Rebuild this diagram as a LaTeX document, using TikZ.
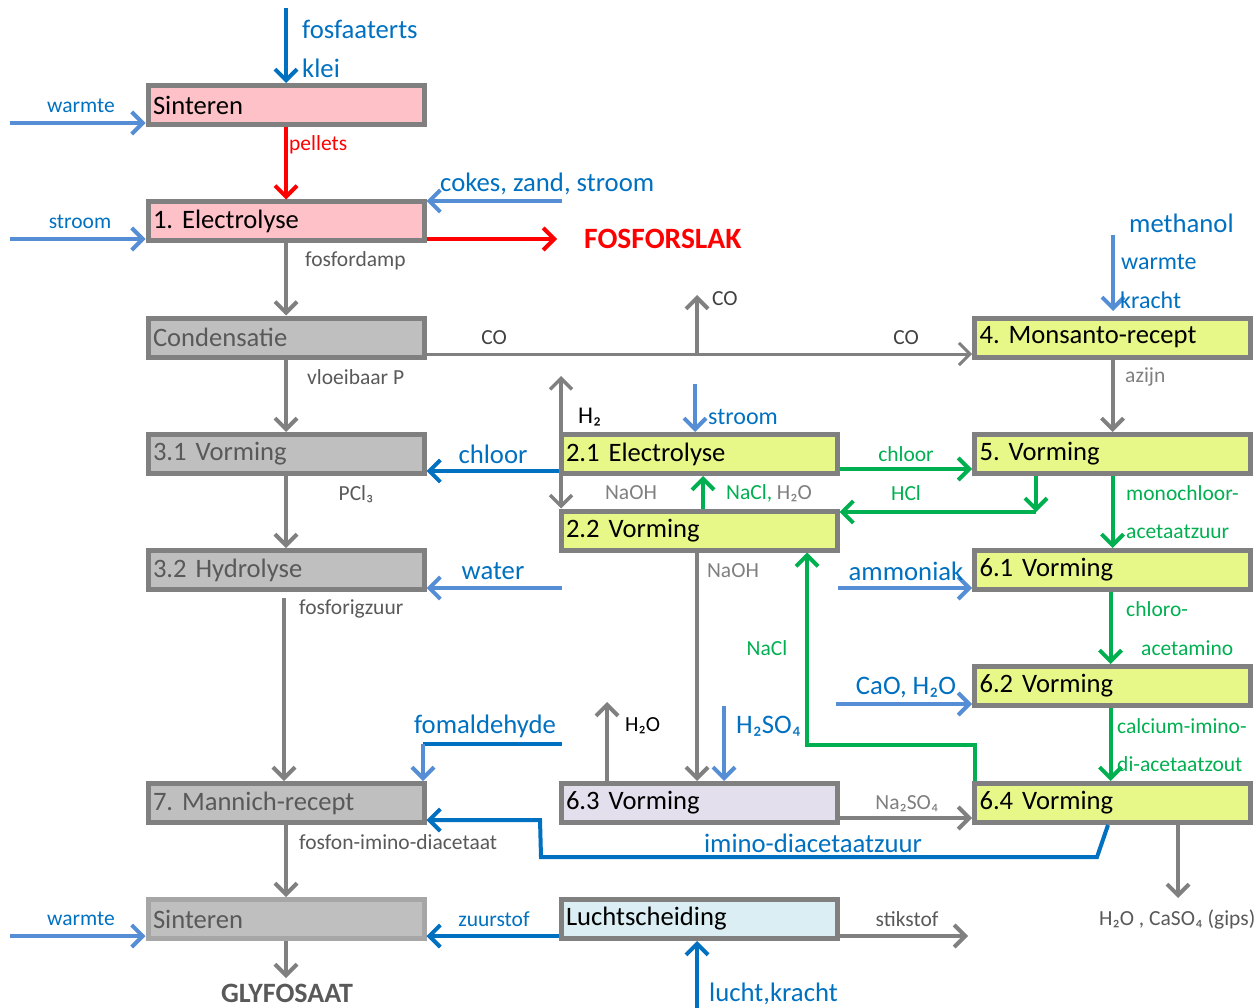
\documentclass[tikz,border=0pt]{standalone}
\usepackage{fontspec}
\setmainfont{Carlito}
\frenchspacing
\usetikzlibrary{arrows.meta,backgrounds,calc}
\definecolor{bgray}{HTML}{808080}
\definecolor{lgray}{HTML}{A6A6A6}
\definecolor{pinkf}{HTML}{FFC1C8}
\definecolor{grayf}{HTML}{BFBFBF}
\definecolor{yel}{HTML}{E8F888}
\definecolor{lav}{HTML}{E4DFEC}
\definecolor{lbluef}{HTML}{DAEEF3}
\definecolor{dblue}{HTML}{0070C0}
\definecolor{lb}{HTML}{558ED5}
\definecolor{grn}{HTML}{00B050}
\definecolor{rd}{HTML}{FF0000}
\definecolor{gtext}{HTML}{595959}
\definecolor{gtextl}{HTML}{7F7F7F}
\definecolor{dtext}{HTML}{404040}
\begin{document}
\begin{tikzpicture}[x=1pt,y=-1pt,
  box/.style={draw=bgray, line width=5pt, minimum height=39pt, text width=266pt, inner xsep=5pt, inner ysep=0pt, align=left, font=\fontsize{26.6}{30}\selectfont, text=black},
  lbl/.style={inner sep=0pt, font=\fontsize{21.5}{24}\selectfont},
  big/.style={inner sep=0pt, font=\fontsize{26.7}{30}\selectfont},
  mid/.style={inner sep=0pt, font=\fontsize{24}{27}\selectfont},
  a/.style={line width=4pt, -{Straight Barb[length=11pt,width=22pt]}},
]
\useasboundingbox (0,0) rectangle (1257,1008);
\clip (0,0) rectangle (1257,1008);

% boxes
\node[box, fill=pinkf] (sint1) at (286,105) {Sinteren};
\node[box, fill=pinkf] (elec1) at (286,221.5) {1. Electrolyse};
\node[box, fill=grayf, text=gtext] (cond) at (286,337.5) {Condensatie};
\node[box, fill=grayf, text=gtext] (v31) at (286,454) {3.1 Vorming};
\node[box, fill=grayf, text=gtext] (h32) at (286,570) {3.2 Hydrolyse};
\node[box, fill=grayf, text=gtext] (mann) at (286,803) {7. Mannich-recept};
\node[box, fill=grayf, draw=lgray, text=gtext] (sint2) at (286,919) {Sinteren};
\node[box, fill=yel] (e21) at (699,454) {2.1 Electrolyse};
\node[box, fill=yel] (v22) at (699,530.5) {2.2 Vorming};
\node[box, fill=lav] (v63) at (699,803) {6.3 Vorming};
\node[box, fill=lbluef] (lucht) at (699,919) {Luchtscheiding};
\node[box, fill=yel] (mons) at (1112.5,337.5) {4. Monsanto-recept};
\node[box, fill=yel] (v5) at (1112.5,454) {5. Vorming};
\node[box, fill=yel] (v61) at (1112.5,570) {6.1 Vorming};
\node[box, fill=yel] (v62) at (1112.5,686) {6.2 Vorming};
\node[box, fill=yel] (v64) at (1112.5,803) {6.4 Vorming};

% free-end coordinates
\coordinate (fin) at (286,8);
\coordinate (w1) at (10,123);
\coordinate (s1) at (10,239);
\coordinate (ck) at (562,201);
\coordinate (fs) at (557,239);
\coordinate (co) at (0,354);
\coordinate (coup) at (697,295);
\coordinate (ch) at (0,471);
\coordinate (wa) at (562,588);
\coordinate (h2t) at (561,376);
\coordinate (st2) at (695,384);
\coordinate (nc) at (703,0);
\coordinate (cg) at (0,469);
\coordinate (hc) at (1036,512);
\coordinate (me) at (1113,235);
\coordinate (me2) at (1113,311);
\coordinate (no) at (697,0);
\coordinate (ncl1) at (975,745);
\coordinate (ncl2) at (807,745);
\coordinate (am) at (838,588);
\coordinate (ca) at (836,704);
\coordinate (gp) at (1178,898);
\coordinate (fo1) at (562,744);
\coordinate (fo2) at (423,744);
\coordinate (hw) at (607,702);
\coordinate (hs) at (724,706);
\coordinate (ns) at (0,818);
\coordinate (im1) at (1108,0);
\coordinate (im2) at (1097,857);
\coordinate (im3) at (541,857);
\coordinate (im4) at (540,820);
\coordinate (w2) at (10,936);
\coordinate (zs) at (0,936);
\coordinate (gl) at (286,978);
\coordinate (sk) at (968,936);
\coordinate (lk) at (697,1012);

\begin{pgfonlayer}{background}
\draw[bgray, line width=3.5pt, {Straight Barb[length=11pt,width=22pt]}-{Straight Barb[length=11pt,width=22pt]}] (h2t) -- (h2t |- v22.north);
\draw[a, grn] (ncl1 |- v64.north) -- (ncl1) -- (ncl2) -- (ncl2 |- v22.south);
\end{pgfonlayer}

% connectors
\draw[a, dblue] (fin) -- (sint1.north);
\draw[a, lb] (w1) -- (w1 -| sint1.west);
\draw[a, rd] (sint1.south) -- (elec1.north);
\draw[a, lb] (s1) -- (s1 -| elec1.west);
\draw[a, lb] (ck) -- (ck -| elec1.east);
\draw[a, rd] (fs -| elec1.east) -- (fs);
\draw[a, bgray] (elec1.south) -- (cond.north);
\draw[a, bgray, line width=3pt] (co -| cond.east) -- (co -| mons.west);
\draw[a, bgray] (coup |- co) -- (coup);
\draw[a, bgray] (cond.south) -- (v31.north);
\draw[a, bgray] (v31.south) -- (h32.north);
\draw[a, bgray] ($(h32.south)+(-2,6)$) -- (mann.north -| {$(h32.south)+(-2,0)$});
\draw[a, dblue] (ch -| e21.west) -- (ch -| v31.east);
\draw[a, lb] (wa) -- (wa -| h32.east);
\draw[a, lb] (st2) -- (st2 |- e21.north);
\draw[a, grn] (nc |- v22.north) -- (nc |- e21.south);
\draw[a, grn] (cg -| e21.east) -- (cg -| v5.west);
\draw[a, grn] (hc |- v5.south) -- (hc);
\draw[a, grn] (hc) -- (hc -| v22.east);
\draw[a, grn] (v5.south) -- (v61.north);
\draw[a, bgray] (mons.south) -- (v5.north);
\draw[a, lb] (me) -- (me2);
\draw[a, bgray] (no |- v22.south) -- (no |- v63.north);
\draw[a, lb] (am) -- (am -| v61.west);
\draw[a, grn] ($(v61.south)+(-2,0)$) -- ($(v62.north)+(-2,0)$);
\draw[a, lb] (ca) -- (ca -| v62.west);
\draw[a, grn] ($(v62.south)+(-2,0)$) -- ($(v64.north)+(-2,0)$);
\draw[a, bgray] (gp |- v64.south) -- (gp);
\draw[dblue, line width=4pt] (fo1) -- (fo2);
\draw[a, lb] (fo2) -- (fo2 |- mann.north);
\draw[a, bgray] (hw |- v63.north) -- (hw);
\draw[a, lb] (hs) -- (hs |- v63.north);
\draw[a, bgray] (ns -| v63.east) -- (ns -| v64.west);
\draw[a, dblue, line join=miter] (im1 |- v64.south) -- (im2) -- (im3) -- (im4) -- (im4 -| mann.east);
\draw[a, bgray] (mann.south) -- (sint2.north);
\draw[a, lb] (w2) -- (w2 -| sint2.west);
\draw[a, dblue] (zs -| lucht.west) -- (zs -| sint2.east);
\draw[a, bgray] (sint2.south) -- (gl);
\draw[a, bgray] (sk -| lucht.east) -- (sk);
\draw[a, dblue] (lk) -- (lk |- lucht.south);

% labels
\node[big, text=dblue, anchor=west] (t1) at (302,29) {fosfaaterts};
\node[big, text=dblue, anchor=west] (t2) at (302,68) {klei};
\node[lbl, text=dblue] (t3) at (81,106) {warmte};
\node[lbl, text=rd, anchor=west] (t4) at (289,145) {pellets};
\node[lbl, text=dblue] (t5) at (80,222) {stroom};
\node[big, text=dblue, anchor=west] (t6) at (440,184) {cokes, zand, stroom};
\node[big, text=rd, anchor=west, font=\fontsize{29.5}{32}\selectfont\bfseries] (t7) at (584,239) {FOSFORSLAK};
\node[lbl, text=gtext, anchor=west] (t8) at (305,261) {fosfordamp};
\node[lbl, text=dtext, anchor=west] (t9) at (712,299) {CO};
\node[lbl, text=dtext] (t10) at (494,338) {CO};
\node[lbl, text=dtext] (t11) at (906,338) {CO};
\node[big, text=dblue, anchor=west] (t12) at (1129,223) {methanol};
\node[mid, text=dblue, anchor=west] (t13) at (1121,262) {warmte};
\node[mid, text=dblue, anchor=west] (t14) at (1120,300) {kracht};
\node[lbl, text=gtext, anchor=west] (t15) at (307,377) {vloeibaar P};
\node[lbl, text=gtextl, anchor=west] (t16) at (1125,377) {azijn};
\node[mid, text=black, anchor=west] (t17) at (578,417) {H₂};
\node[mid, text=dblue, anchor=west] (t18) at (708,417) {stroom};
\node[big, text=dblue] (t19) at (493,454) {chloor};
\node[lbl, text=grn] (t20) at (906,454) {chloor};
\node[lbl, text=gtext] (t21) at (356,494) {PCl₃};
\node[lbl, text=gtextl] (t22) at (631,493) {NaOH};
\node[lbl] (t23) at (769,493) {\textcolor{grn}{NaCl,} \textcolor{gtextl}{H₂O}};
\node[lbl, text=grn] (t24) at (906,493) {HCl};
\node[lbl, text=grn, anchor=west] (t25) at (1126,493) {monochloor-};
\node[lbl, text=grn, anchor=west] (t26) at (1126,532) {acetaatzuur};
\node[big, text=dblue] (t27) at (493,571) {water};
\node[lbl, text=gtextl] (t28) at (733,571) {NaOH};
\node[big, text=dblue] (t29) at (906,571) {ammoniak};
\node[lbl, text=gtext, anchor=west] (t30) at (299,609) {fosforigzuur};
\node[lbl, text=grn, anchor=west] (t31) at (1126,609) {chloro-};
\node[lbl, text=grn] (t32) at (767,648) {NaCl};
\node[lbl, text=grn, anchor=west] (t33) at (1141,648) {acetamino};
\node[big, text=dblue] (t34) at (906,688) {CaO, H₂O};
\node[big, text=dblue] (t35) at (485,726) {fomaldehyde};
\node[lbl, text=black, anchor=west] (t36) at (625,726) {H₂O};
\node[big, text=dblue, anchor=west] (t37) at (736,726) {H₂SO₄};
\node[lbl, text=grn, anchor=west] (t38) at (1117,726) {calcium-imino-};
\node[lbl, text=grn, anchor=west] (t39) at (1117,764) {di-acetaatzout};
\node[lbl, text=gtextl] (t40) at (907,804) {Na₂SO₄};
\node[lbl, text=gtext, anchor=west] (t41) at (299,842) {fosfon-imino-diacetaat};
\node[big, text=dblue] (t42) at (813,843) {imino-diacetaatzuur};
\node[lbl, text=dblue] (t43) at (81,919) {warmte};
\node[lbl, text=dblue] (t44) at (494,919) {zuurstof};
\node[lbl, text=gtext] (t45) at (907,919) {stikstof};
\node[lbl, text=gtext, anchor=west] (t46) at (1099,919) {H₂O , CaSO₄ (gips)};
\node[big, text=gtext, font=\fontsize{28}{32}\selectfont\bfseries] (t47) at (287,993) {GLYFOSAAT};
\node[big, text=dblue, anchor=west] (t48) at (709,994) {lucht,kracht};
\end{tikzpicture}
\end{document}
